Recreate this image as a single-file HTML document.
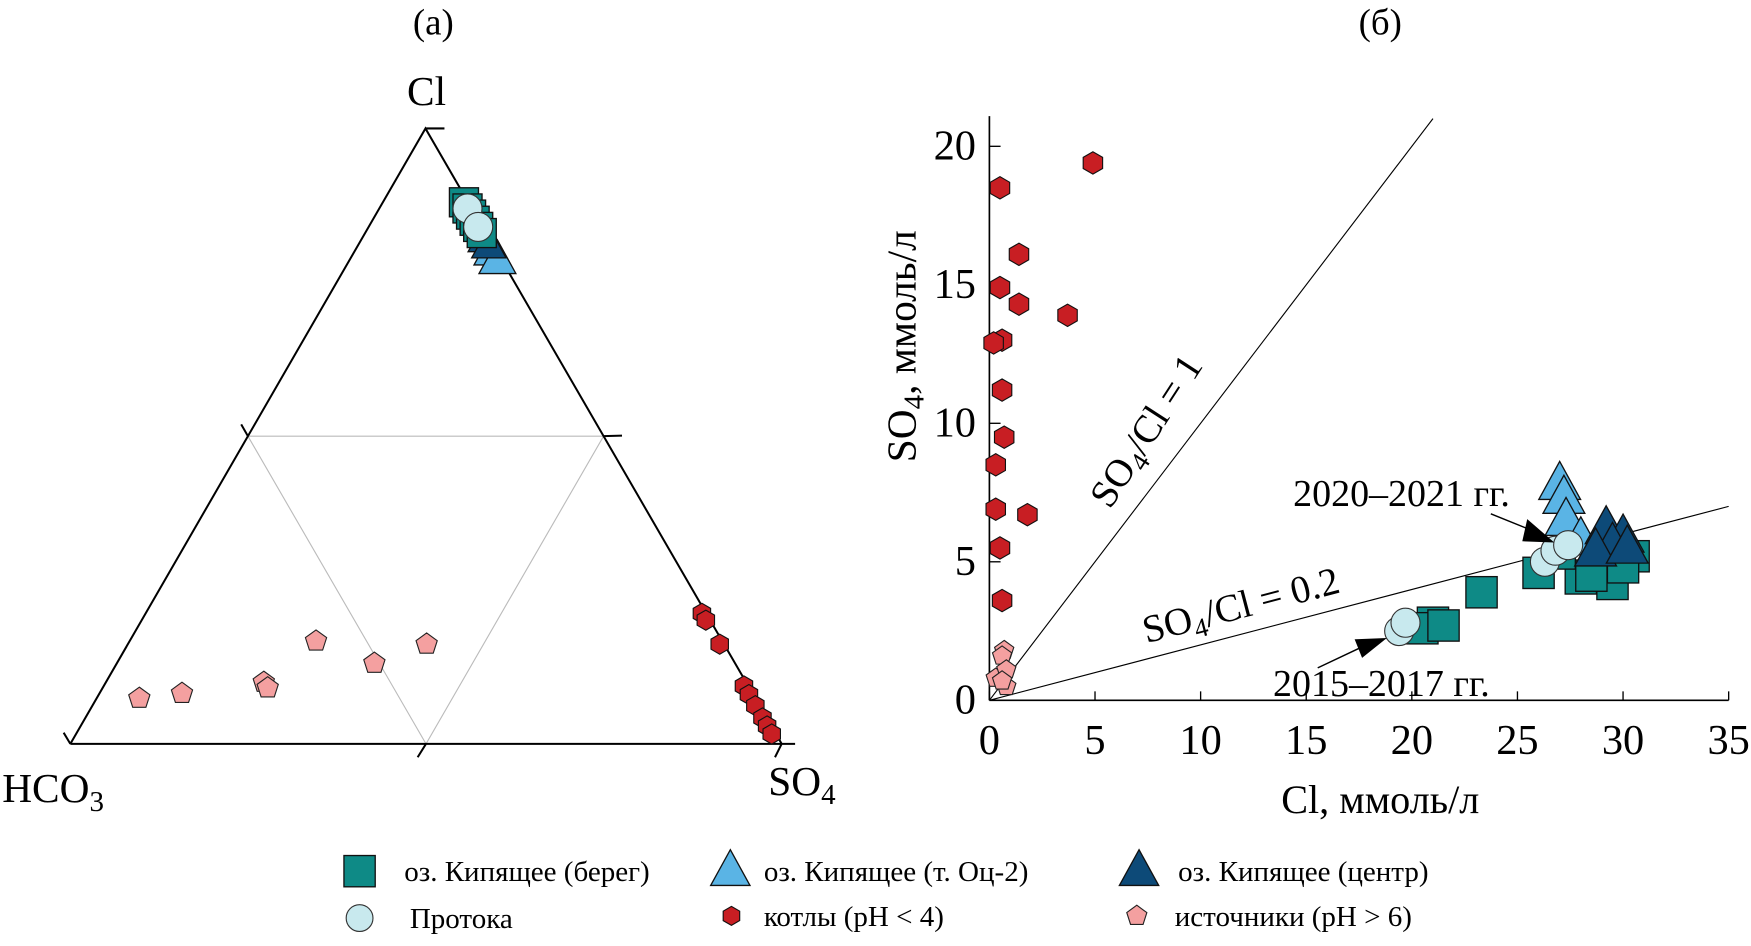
<!DOCTYPE html>
<html><head><meta charset="utf-8"><style>
html,body{margin:0;padding:0;background:#fff;}
svg{display:block;font-family:"Liberation Serif",serif;}
</style></head><body>
<svg id="chart" width="1751" height="946" viewBox="0 0 1568 847" preserveAspectRatio="none" xmlns="http://www.w3.org/2000/svg">
<text x="388" y="31" font-size="33" text-anchor="middle">(a)</text>
<text x="1236" y="31" font-size="33" text-anchor="middle">(б)</text>
<g id="tern"></g>
<g id="scat"></g>
<g id="legend"></g>
</svg>
<script>
// ---- scatter data (Cl, SO4 mmol/l) ----
const xTicks=[0,5,10,15,20,25,30,35];
const yTicks=[0,5,10,15,20];
const kotlyCl=[0.5,4.9,1.4,0.5,1.4,3.7,0.6,0.2,0.6,0.7,0.3,0.3,1.8,0.5,0.6];
const kotlySO4=[18.5,19.4,16.1,14.9,14.3,13.9,13.0,12.9,11.2,9.5,8.5,6.9,6.7,5.5,3.6];
const istCl=[0.7,0.6,0.3,0.8,0.8,0.6];
const istSO4=[1.8,1.6,0.8,1.1,0.5,0.7];
const beregCl=[21.0,20.5,21.5,23.3,26.0,28.0,29.5,30.5,27.0,29.0,30.0,28.5];
const beregSO4=[2.8,2.6,2.7,3.9,4.6,4.4,4.2,5.2,5.3,5.0,4.8,4.5];
const oc2Cl=[27.0,27.2,27.3,28.0];
const oc2SO4=[7.8,7.3,6.5,5.8];
const centrCl=[29.2,30.0,29.5,28.7,30.2];
const centrSO4=[6.2,5.9,5.6,5.4,5.5];
const protCl=[19.4,19.7,26.3,26.8,27.4];
const protSO4=[2.5,2.8,5.0,5.4,5.6];
const ratioLines=[1,0.2];
// ---- ternary data (fractions Cl, SO4) ----
const tIstCl=[0.074,0.082,0.10,0.091,0.167,0.131,0.162];
const tIstSO4=[0.06,0.116,0.222,0.232,0.262,0.362,0.42];
const tKotlyCl=[0.212,0.201,0.162,0.094,0.080,0.062,0.042,0.029,0.016];
const tBeregCl=[0.88,0.87,0.86,0.85,0.84,0.83];
const tOc2Cl=[0.80,0.786];
const tCentrCl=[0.82,0.81];
const tProtCl=[0.87,0.84];

const NS="http://www.w3.org/2000/svg";
function mk(tag,attrs,parent){const e=document.createElementNS(NS,tag);for(const k in attrs)e.setAttribute(k,attrs[k]);parent.appendChild(e);return e;}
const C={bereg:"#0e8a86",oc2:"#5ab4e5",centr:"#0d4a78",prot:"#c8e9ee",kotly:"#c81e23",ist:"#f4a0a0"};
function poly(n,r,rot){let p=[];for(let i=0;i<n;i++){const a=rot+i*2*Math.PI/n;p.push((r*Math.cos(a)).toFixed(1)+","+(r*Math.sin(a)).toFixed(1));}return p.join(" ");}
function marker(type,x,y,s,g){
  let e;
  if(type==="bereg") e=mk("rect",{x:x-s/2,y:y-s/2,width:s,height:s,fill:C.bereg,stroke:"#111","stroke-width":1.2},g);
  else if(type==="oc2"||type==="centr") e=mk("polygon",{points:`${x},${y-s*0.6} ${x+s*0.55},${y+s*0.4} ${x-s*0.55},${y+s*0.4}`,fill:C[type],stroke:"#111","stroke-width":1.2},g);
  else if(type==="prot") e=mk("circle",{cx:x,cy:y,r:s/2,fill:C.prot,stroke:"#333","stroke-width":1},g);
  else if(type==="kotly") e=mk("polygon",{points:poly(6,s/2,Math.PI/6),transform:`translate(${x},${y})`,fill:C.kotly,stroke:"#111","stroke-width":1},g);
  else e=mk("polygon",{points:poly(5,s/2,-Math.PI/2),transform:`translate(${x},${y})`,fill:C.ist,stroke:"#222","stroke-width":1},g);
  return e;
}
// ---------- scatter ----------
const sg=document.getElementById("scat");
const X0=886,X35=1548,Y0=627,Y20=131,YT=104;
const sx=v=>X0+(X35-X0)*v/35, sy=v=>Y0-(Y0-Y20)*v/20;
let e;
e=mk("line",{x1:X0,y1:Y0,x2:X0,y2:YT,stroke:"#000","stroke-width":1.5},sg);


e=mk("line",{x1:X0,y1:Y0,x2:X35,y2:Y0,stroke:"#000","stroke-width":1.5},sg);


xTicks.forEach(t=>{
  e=mk("line",{x1:sx(t),y1:Y0,x2:sx(t),y2:Y0-8,stroke:"#000","stroke-width":1.2},sg);
  
  
  e=mk("text",{x:sx(t),y:Y0+48,"font-size":38,"text-anchor":"middle"},sg);e.textContent=t;
  
  
});
yTicks.forEach(t=>{
  e=mk("line",{x1:X0,y1:sy(t),x2:X0+10,y2:sy(t),stroke:"#000","stroke-width":1.2},sg);
  
  
  e=mk("text",{x:X0-12,y:sy(t)+12,"font-size":38,"text-anchor":"end"},sg);e.textContent=t;
  
  
});
e=mk("text",{x:1236,y:728,"font-size":36,"text-anchor":"middle"},sg);e.textContent="Cl, ммоль/л";


e=mk("text",{x:0,y:0,"font-size":37,"text-anchor":"middle",transform:"translate(820,310) rotate(-90)"},sg);
e.innerHTML='SO<tspan font-size="26" dy="7">4</tspan><tspan dy="-7">, ммоль/л</tspan>';


ratioLines.forEach((r,i)=>{
  const xe=Math.min(35,21/r);
  e=mk("line",{x1:sx(0),y1:sy(0),x2:sx(xe),y2:sy(xe*r),stroke:"#000","stroke-width":1},sg);
  
  
});
e=mk("text",{x:0,y:0,"font-size":35,"text-anchor":"middle",transform:"translate(1036,392) rotate(-57)"},sg);
e.innerHTML='SO<tspan font-size="24" dy="7">4</tspan><tspan dy="-7">/Cl = 1</tspan>';


e=mk("text",{x:0,y:0,"font-size":35,"text-anchor":"middle",transform:"translate(1114,553) rotate(-14.7)"},sg);
e.innerHTML='SO<tspan font-size="24" dy="7">4</tspan><tspan dy="-7">/Cl = 0.2</tspan>';


function series(type,xs,ys,s,name){xs.forEach((v,i)=>{const m=marker(type,sx(v),sy(ys[i]),s,sg);
  
  });}
series("ist",istCl,istSO4,18,"istochniki-point");
series("kotly",kotlyCl,kotlySO4,20,"kotly-point");
series("bereg",beregCl,beregSO4,28,"bereg-point");
series("oc2",oc2Cl,oc2SO4,34,"oc2-point");
series("centr",centrCl,centrSO4,34,"centr-point");
series("prot",protCl,protSO4,26,"protoka-point");
e=mk("text",{x:1255,y:453,"font-size":34,"text-anchor":"middle"},sg);e.textContent="2020–2021 гг.";


e=mk("text",{x:1237,y:623,"font-size":34,"text-anchor":"middle"},sg);e.textContent="2015–2017 гг.";


e=mk("path",{d:"M1335,460 L1372,475 M1368,466 L1390,485 L1364,484 Z",stroke:"#000","stroke-width":1.3,fill:"#000"},sg);


e=mk("path",{d:"M1180,598 L1218,580 M1214,573 L1240,572 L1220,588 Z",stroke:"#000","stroke-width":1.3,fill:"#000"},sg);


// ---------- ternary ----------
const tg=document.getElementById("tern");
const A=[381,115],L=[63,666],R=[700,666];
const tp=(cl,so)=>{const h=1-cl-so;return [cl*A[0]+h*L[0]+so*R[0],cl*A[1]+h*L[1]+so*R[1]];};
const mid=(p,q)=>[(p[0]+q[0])/2,(p[1]+q[1])/2];
const mAL=mid(A,L),mAR=mid(A,R),mLR=mid(L,R);
e=mk("polygon",{points:`${mAL} ${mAR} ${mLR}`,fill:"none",stroke:"#bbb","stroke-width":1},tg);


e=mk("path",{d:`M${L} L${A} L${R} M${L} L712,666 M381,115 L398,115 M${mAR} L557,390 M${mAL} L216,380 M${mLR} L374,678 M63,666 L57,656 M700,666 L694,678`,fill:"none",stroke:"#000","stroke-width":1.8},tg);


e=mk("text",{x:382,y:94,"font-size":37,"text-anchor":"middle"},tg);e.textContent="Cl";


e=mk("text",{x:2,y:718,"font-size":37},tg);e.innerHTML='HCO<tspan font-size="26" dy="8">3</tspan>';


e=mk("text",{x:688,y:712,"font-size":37},tg);e.innerHTML='SO<tspan font-size="26" dy="8">4</tspan>';


function tseries(type,cls,sos,s,name){cls.forEach((c,i)=>{const so=sos?sos[i]:(1-c-0.006);const p=tp(c,so);const m=marker(type,p[0],p[1],s,tg);
  
  });}
tseries("ist",tIstCl,tIstSO4,20,"ternary-istochniki");
tseries("kotly",tKotlyCl,null,18,"ternary-kotly");
tseries("oc2",tOc2Cl,null,30,"ternary-oc2");
tseries("centr",tCentrCl,null,28,"ternary-centr");
tseries("bereg",tBeregCl,null,26,"ternary-bereg");
tseries("prot",tProtCl,null,26,"ternary-protoka");
// ---------- legend ----------
const lg=document.getElementById("legend");
const items=[["bereg",322,780,28,"оз. Кипящее (берег)",362],["oc2",654,780,32,"оз. Кипящее (т. Оц-2)",684],["centr",1020,780,32,"оз. Кипящее (центр)",1055],
["prot",322,822,24,"Протока",367],["kotly",655,820,17,"котлы (pH < 4)",684],["ist",1018,820,19,"источники (pH > 6)",1052]];
items.forEach(it=>{
  const m=marker(it[0],it[1],it[2],it[3],lg);
  
  
  const t=mk("text",{x:it[5],y:it[2]+9,"font-size":26},lg);t.textContent=it[4];
  
  
});
</script>
</body></html>
